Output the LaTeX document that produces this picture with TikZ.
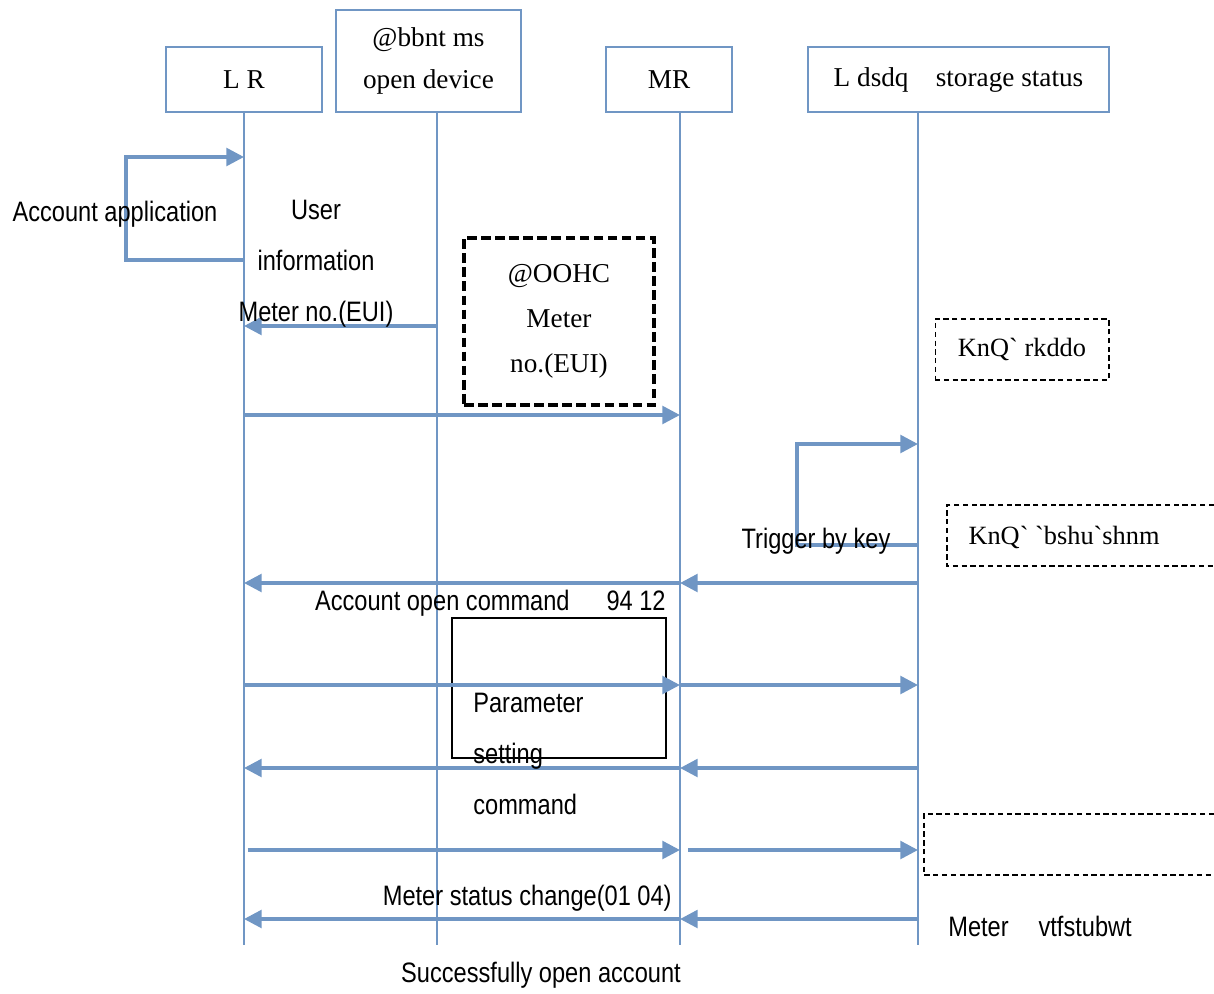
\documentclass[tikz,border=0pt]{standalone}
\usepackage{fontspec}
\setmainfont{Liberation Serif}
\newfontfamily\labelfont[FakeStretch=0.84]{Liberation Sans}
\usetikzlibrary{arrows.meta,positioning}
\definecolor{lifeblue}{RGB}{112,150,196}
\tikzset{
  head/.style={draw=lifeblue,line width=1.6pt,minimum height=1.3cm,align=center,
    font=\fontsize{15.5}{24.4}\selectfont},
  life/.style={draw=lifeblue,line width=1.3pt},
  msg/.style={draw=lifeblue,line width=2pt,-{Triangle[length=10pt,width=10pt]}},
  lbl/.style={font=\labelfont\fontsize{16}{28.9}\selectfont,inner sep=0pt},
  note/.style={draw,densely dashed,line width=0.6pt,font=\fontsize{15}{18}\selectfont}
}

\begin{document}
\begin{tikzpicture}[x=0.02cm,y=-0.02cm]
   \useasboundingbox (0,0) rectangle (1214,994);
   % heads
   \node[head,minimum width=3.12cm] (lr) at (244,79.5) {L R};
   \node[head,minimum width=3.7cm,minimum height=2.04cm] (od) at (428.5,61) {@bbnt ms\\open device};
   \node[head,minimum width=2.52cm] (mr) at (669,79.5) {MR};
   \node[head,minimum width=6.02cm] (ss) at (958.5,79.5) {L dsdq\quad storage status};
   % lifelines and message points
   \foreach \n/\x in {lr/244,od/437,mr/680,ss/918} {
      \coordinate (\n-top) at (\x,113);
      \coordinate (\n-bot) at (\x,945);
      \draw[life] (\n-top) -- (\n-bot);
      \foreach \r/\y in {a/157,b/260,c/326,d/415,e/444,f/545,g/583,h/685,i/768,j/850,k/919}
         \coordinate (\n-\r) at (\x,\y);
   }
   % notes
   \node[draw,dashed,dash pattern=on 5.5pt off 2.5pt,line width=2pt,minimum width=3.8cm,
      minimum height=3.34cm,align=center,font=\fontsize{15.5}{25.5}\selectfont]
      (eui) at (559,321.5) {@OOHC\\Meter\\no.(EUI)};
   \node[note,minimum width=3.48cm,minimum height=1.22cm] (sleep) at (1022,349.5) {KnQ\textasciigrave\ rkddo};
   \draw[note] (1214,505) -- (947,505) -- (947,566) -- (1214,566);
   \node[note,draw=none,anchor=west,inner sep=0pt] (active) at (968,537) {KnQ\textasciigrave\ \textasciigrave bshu\textasciigrave shnm};
   \draw[note] (1214,814) -- (924,814) -- (924,875) -- (1214,875);
   \node[draw,line width=0.6pt,minimum width=4.28cm,minimum height=2.8cm] (psbox) at (559,688) {};
   % messages
   \draw[msg] (lr-b) -- ++(-118,0) |- (lr-a);
   \draw[msg] (od-c) -- (lr-c);
   \draw[msg] (lr-d) -- (mr-d);
   \draw[msg] (ss-f) -- ++(-121,0) |- (ss-e);
   \draw[msg] (ss-g) -- (mr-g);
   \draw[msg] (mr-g) -- (lr-g);
   \draw[msg] (lr-h) -- (mr-h);
   \draw[msg] (mr-h) -- (ss-h);
   \draw[msg] (ss-i) -- (mr-i);
   \draw[msg] (mr-i) -- (lr-i);
   \draw[msg,shorten <=2pt] (lr-j) -- (mr-j);
   \draw[msg,shorten <=4.5pt] (mr-j) -- (ss-j);
   \draw[msg] (ss-k) -- (mr-k);
   \draw[msg] (mr-k) -- (lr-k);
   % labels
   \node[lbl] (accapp) at (115,214) {Account application};
   \node[lbl,align=center] (userinfo) at (316,264) {User\\information\\Meter no.(EUI)};
   \node[lbl] (trig) at (816,541) {Trigger by key};
   \node[lbl,anchor=east] (aoc) at (666,603) {Account open command\hspace{21pt}94 12};
   \node[lbl,anchor=west,align=left] (pscmd) at (473,754) {Parameter\\setting\\command};
   \node[lbl,anchor=east] (msc) at (672,898) {Meter status change(01 04)};
   \node[lbl,anchor=west] (mvt) at (948,926) {Meter\hspace{17pt}vtfstubwt};
   \node[lbl] (succ) at (541,975) {Successfully open account};
\end{tikzpicture}
\end{document}
